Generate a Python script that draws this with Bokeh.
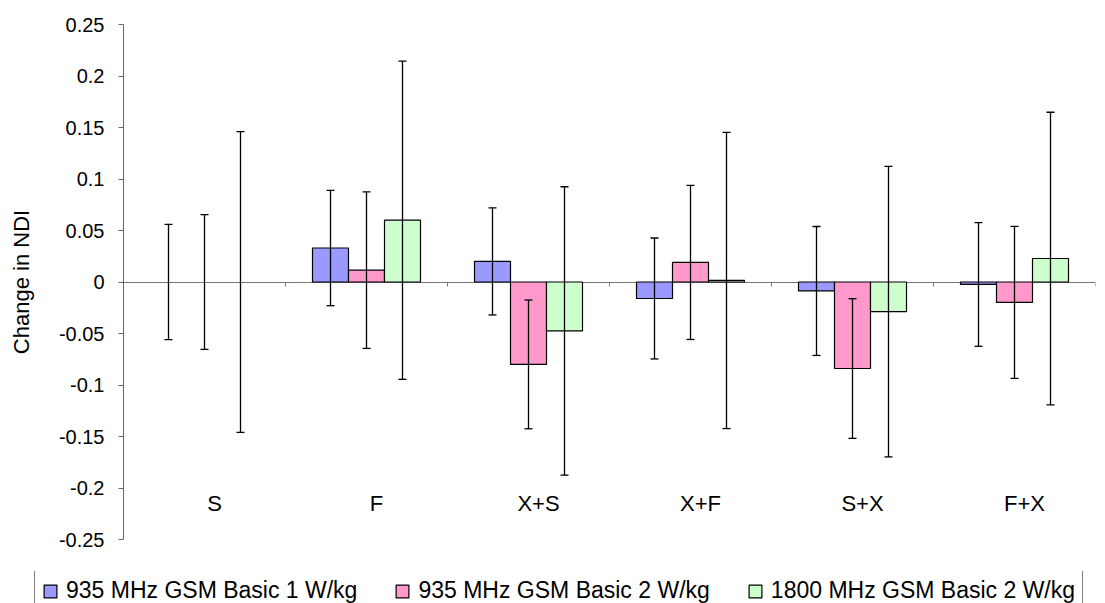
from bokeh.plotting import figure
from bokeh.layouts import column
from bokeh.models import (ColumnDataSource, Range1d, LinearAxis, FixedTicker,
                          NumeralTickFormatter, Whisker, TeeHead, Legend, LegendItem)
from bokeh.core.properties import value
from bokeh.embed import file_html
from bokeh.resources import INLINE

# Exposure conditions
categories = ["S", "F", "X+S", "X+F", "S+X", "F+X"]

# Mean change in NDI per exposure group, with error bar half-widths
series_names = ["935 MHz GSM Basic 1 W/kg", "935 MHz GSM Basic 2 W/kg", "1800 MHz GSM Basic 2 W/kg"]
gsm935_1w = [0.0, 0.033, 0.020, -0.016, -0.0087, -0.0024]
gsm935_1w_err = [0.056, 0.056, 0.052, 0.0587, 0.0626, 0.060]
gsm935_2w = [0.0, 0.0115, -0.080, 0.019, -0.084, -0.0198]
gsm935_2w_err = [0.0655, 0.076, 0.0625, 0.0748, 0.0678, 0.0738]
gsm1800_2w = [0.0, 0.060, -0.0475, 0.0015, -0.0288, 0.0228]
gsm1800_2w_err = [0.146, 0.1545, 0.140, 0.1438, 0.141, 0.142]

y_ticks = [-0.25, -0.2, -0.15, -0.1, -0.05, 0, 0.05, 0.1, 0.15, 0.2, 0.25]

colors = ["#9999FF", "#FF99CC", "#CCFFCC"]
FONT = "Liberation Sans"
BAR_W = 1 / 4.5          # three bars plus a 150% gap per category
LABEL_Y = -0.215         # vertical middle of the category captions

p = figure(width=1105, height=571, output_backend="svg", toolbar_location=None,
           x_range=Range1d(0, len(categories)), y_range=Range1d(-0.25, 0.25),
           x_axis_location=None, y_axis_location="left",
           min_border_left=123, min_border_right=10, min_border_top=24, min_border_bottom=32)
p.frame_align = False
p.outline_line_color = None
p.xgrid.visible = False
p.ygrid.visible = False
p.background_fill_color = "white"
p.border_fill_color = "white"

# value axis
ya = p.yaxis[0]
ya.ticker = FixedTicker(ticks=y_ticks)
ya.formatter = NumeralTickFormatter(format="0.[00]")
ya.minor_tick_line_color = None
ya.major_tick_in = 0
ya.major_tick_out = 5
ya.major_tick_line_color = "#666666"
ya.axis_line_color = "#666666"
ya.major_label_standoff = 14
ya.major_label_text_font = FONT
ya.major_label_text_font_size = "20px"
ya.major_label_text_color = "black"
ya.axis_label = "Change in NDI"
ya.axis_label_text_font = FONT
ya.axis_label_text_font_size = "22px"
ya.axis_label_text_font_style = "normal"
ya.axis_label_text_color = "black"
ya.axis_label_standoff = 22

# category axis crossing at zero: only boundary ticks, pointing down
xa = LinearAxis(fixed_location=0,
                ticker=FixedTicker(ticks=[], minor_ticks=list(range(len(categories) + 1))))
xa.major_tick_line_color = None
xa.minor_tick_in = 4
xa.minor_tick_out = 0
xa.minor_tick_line_color = "#777777"
xa.axis_line_color = "#777777"
xa.level = "underlay"
p.add_layout(xa, "above")

series = [(gsm935_1w, gsm935_1w_err), (gsm935_2w, gsm935_2w_err), (gsm1800_2w, gsm1800_2w_err)]
offsets = [-BAR_W, 0.0, BAR_W]
for (vals, errs), off, col in zip(series, offsets, colors):
    xs = [i + 0.5 + off for i in range(len(categories))]
    src = ColumnDataSource(dict(
        x=xs, top=vals,
        upper=[v + e for v, e in zip(vals, errs)],
        lower=[v - e for v, e in zip(vals, errs)],
        edge=["black" if v != 0 else None for v in vals],
    ))
    p.vbar(x="x", top="top", bottom=0, width=BAR_W, source=src,
           fill_color=col, line_color="edge", line_width=1.2)
    w = Whisker(source=src, base="x", upper="upper", lower="lower", dimension="height",
                line_color="black", line_width=1.3, level="annotation",
                upper_head=TeeHead(size=8, line_color="black", line_width=1.3),
                lower_head=TeeHead(size=8, line_color="black", line_width=1.3))
    p.add_layout(w)

# category captions
lab_src = ColumnDataSource(dict(x=[i + 0.5 for i in range(len(categories))],
                                y=[LABEL_Y] * len(categories), text=categories))
p.text(x="x", y="y", text="text", source=lab_src, x_offset=10,
       text_align="center", text_baseline="middle",
       text_font=value(FONT), text_font_size="22px", text_color="black")

# legend strip under the chart
lg = figure(width=1105, height=32, output_backend="svg", toolbar_location=None,
            x_range=Range1d(0, 1), y_range=Range1d(0, 1),
            x_axis_location=None, y_axis_location=None,
            min_border=0, min_border_left=0, min_border_right=0,
            min_border_top=0, min_border_bottom=0)
lg.frame_align = False
lg.outline_line_color = None
lg.xgrid.visible = False
lg.ygrid.visible = False
lg.background_fill_color = "white"
lg.border_fill_color = "white"

items = []
for col, name in zip(colors, series_names):
    # legend swatch only: a single empty bar carrying the series style
    r = lg.vbar(x=[0.5], top=[float("nan")], bottom=0, width=BAR_W,
                fill_color=col, line_color="black", line_width=1.2)
    items.append(LegendItem(label=name, renderers=[r], index=0))

legend = Legend(items=items, orientation="horizontal", location=(34, -9),
                glyph_width=16, glyph_height=16, label_standoff=8, spacing=37, padding=7,
                margin=0,
                label_text_font=FONT, label_text_font_size="23px", label_text_color="black",
                border_line_color="black", border_line_width=1,
                background_fill_color="white", background_fill_alpha=1)
lg.add_layout(legend)

layout = column(p, lg, spacing=0)
open("out.html", "w").write(file_html(layout, INLINE))
